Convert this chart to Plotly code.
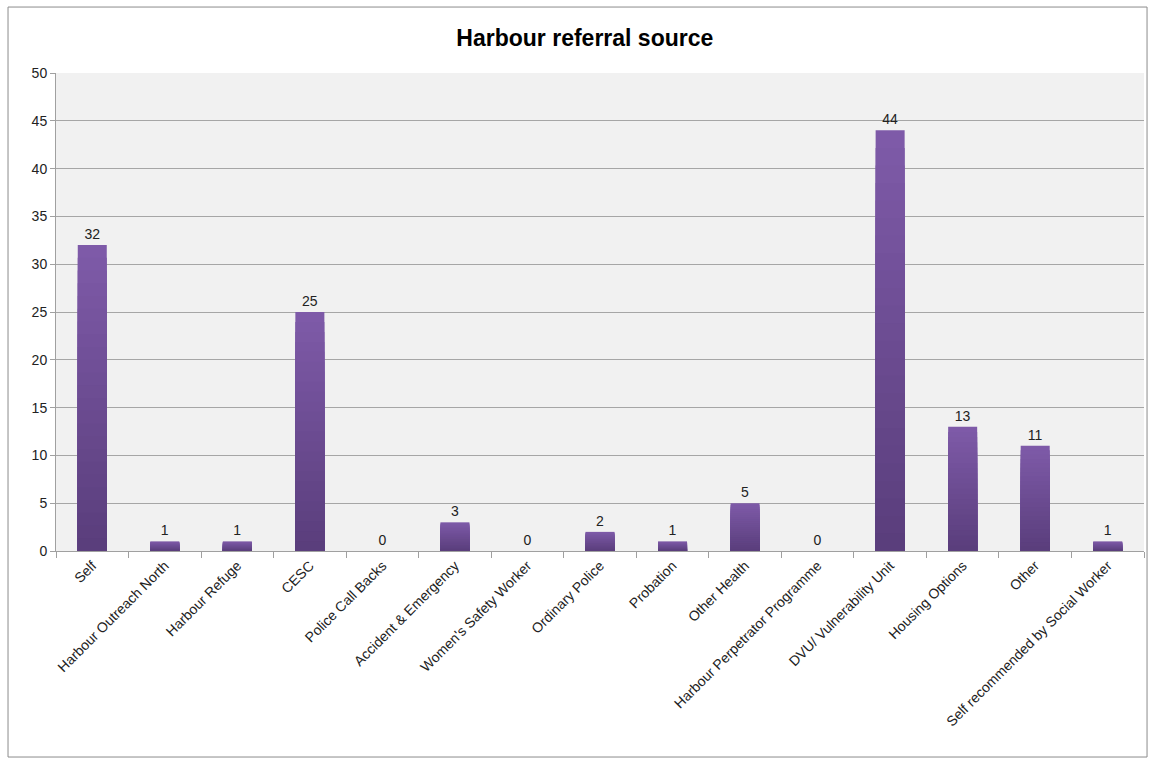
import plotly.graph_objects as go

categories = ["Self", "Harbour Outreach North", "Harbour Refuge", "CESC", "Police Call Backs",
              "Accident & Emergency", "Women's Safety Worker", "Ordinary Police", "Probation",
              "Other Health", "Harbour Perpetrator Programme", "DVU/ Vulnerability Unit",
              "Housing Options", "Other", "Self recommended by Social Worker"]
values = [32, 1, 1, 25, 0, 3, 0, 2, 1, 5, 0, 44, 13, 11, 1]

# gradient layers (top light -> bottom dark)
top_rgb = (126, 90, 168)
bot_rgb = (90, 62, 124)
steps = 24

FONT = "Liberation Sans, Open Sans, sans-serif"

fig = go.Figure()
for i in range(steps):
    frac = 1 - i / steps  # fraction of bar height
    t = i / (steps - 1)
    c = tuple(int(round(top_rgb[k] + (bot_rgb[k] - top_rgb[k]) * t)) for k in range(3))
    fig.add_trace(go.Bar(
        x=categories, y=[v * frac for v in values],
        marker=dict(color="rgb(%d,%d,%d)" % c, line=dict(width=0)),
        width=0.4, hoverinfo="skip", showlegend=False,
    ))

fig.add_trace(go.Bar(
    x=categories, y=values, width=0.4,
    marker=dict(color="rgba(0,0,0,0)", line=dict(width=0)),
    text=[str(v) for v in values], textposition="outside",
    textfont=dict(family=FONT, size=14, color="#222"),
    cliponaxis=False, showlegend=False,
))

fig.update_layout(
    barmode="overlay",
    width=1149, height=758,
    margin=dict(l=56, r=5, t=73, b=207, autoexpand=False),
    paper_bgcolor="white", plot_bgcolor="#f1f1f1",
    title=dict(text="<b>Harbour referral source</b>", x=0.509, xanchor="center",
               y=0.95, yanchor="middle",
               font=dict(family=FONT, size=23, color="black")),
    font=dict(family=FONT, size=14, color="#222"),
    xaxis=dict(tickangle=-45, showgrid=False, showline=True, linecolor="#a0a0a0",
               ticks="outside", ticklen=6, tickcolor="#a0a0a0", tickson="boundaries",
               tickfont=dict(size=14), automargin=False),
    yaxis=dict(range=[0, 50], dtick=5, showgrid=True, gridcolor="#a6a6a6", gridwidth=1,
               showline=True, linecolor="#a0a0a0", ticks="outside", ticklen=5,
               tickcolor="#a0a0a0", zeroline=False, tickfont=dict(size=14), automargin=False),
    shapes=[dict(type="rect", xref="paper", yref="paper",
                 x0=-0.0441, x1=1.0028, y0=-0.431, y1=1.138,
                 line=dict(color="#8c8c8c", width=1), layer="below")],
)

fig.write_html("out.html", config={"responsive": False, "displayModeBar": False},
               default_width="1149px", default_height="758px",
               post_script="document.body.style.margin='0';document.body.style.overflow='hidden';")
